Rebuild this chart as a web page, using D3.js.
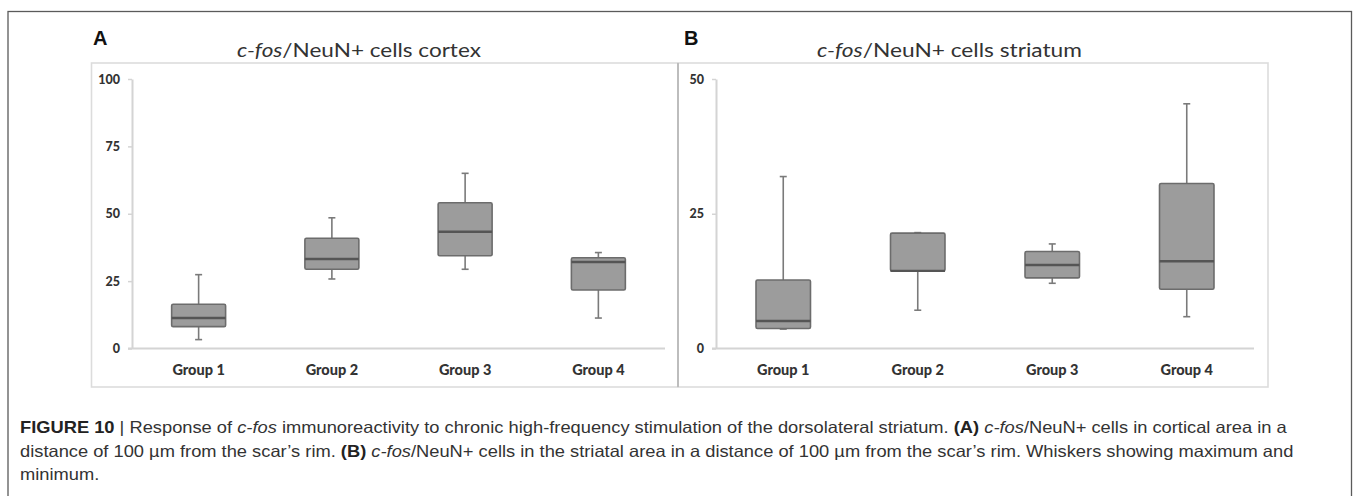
<!DOCTYPE html>
<html>
<head>
<meta charset="utf-8">
<script src="https://cdn.jsdelivr.net/npm/d3@7"></script>
<style>
  html, body { margin: 0; padding: 0; background: #fff; }
  svg { display: block; }
</style>
</head>
<body>
<svg id="fig" width="1357" height="496"></svg>
<script>
// Groups shown on both panels
const groups = ["Group 1", "Group 2", "Group 3", "Group 4"];

// Panel A: c-fos/NeuN+ cells, cortex (five-number summaries)
const cortexMin    = [3.3, 25.8, 29.4, 11.3];
const cortexQ1     = [8.1, 29.4, 34.4, 21.7];
const cortexMedian = [11.3, 33.2, 43.3, 32.1];
const cortexQ3     = [16.4, 40.9, 54.1, 33.7];
const cortexMax    = [27.4, 48.5, 65.0, 35.6];
const cortexTicks  = [0, 25, 50, 75, 100];

// Panel B: c-fos/NeuN+ cells, striatum
const striatumMin    = [3.6, 7.1, 12.1, 5.9];
const striatumQ1     = [3.7, 14.4, 13.1, 11.0];
const striatumMedian = [5.1, 14.4, 15.5, 16.2];
const striatumQ3     = [12.7, 21.4, 18.0, 30.6];
const striatumMax    = [31.9, 21.5, 19.4, 45.4];
const striatumTicks  = [0, 25, 50];

const svg = d3.select("#fig");
const chartFont = "Lato, 'Open Sans', sans-serif";

// Outer figure border
svg.append("rect")
  .attr("x", 8).attr("y", 11.5)
  .attr("width", 1343.5).attr("height", 700)
  .attr("fill", "none").attr("stroke", "#5a5a5a").attr("stroke-width", 1.3);

// Fit a text element to a target width by horizontal scaling
function fitWidth(sel, x, width) {
  const w = sel.node().getComputedTextLength();
  sel.attr("transform", `translate(${x},0) scale(${width / w},1)`);
  return width / w;
}

function buildPanel(cfg) {
  const g = svg.append("g");
  const data = groups.map((name, i) => ({
    name, min: cfg.min[i], q1: cfg.q1[i], med: cfg.median[i], q3: cfg.q3[i], max: cfg.max[i]
  }));

  // chart frame
  g.append("rect")
    .attr("x", cfg.frame[0]).attr("y", 63)
    .attr("width", cfg.frame[1] - cfg.frame[0]).attr("height", 387 - 63)
    .attr("fill", "none").attr("stroke", "#dcdcdc").attr("stroke-width", 1.6);

  // panel letter
  g.append("text")
    .attr("x", cfg.letterX).attr("y", 45)
    .attr("font-family", "'Liberation Sans', Arial, sans-serif")
    .attr("font-weight", "bold").attr("font-size", 20)
    .attr("fill", "#111")
    .text(cfg.letter);

  // title with italic gene name
  const title = g.append("text")
    .attr("y", 57)
    .attr("font-family", chartFont).attr("font-size", 19.5)
    .attr("fill", "#333");
  title.append("tspan").attr("font-style", "italic").text("c-fos");
  title.append("tspan").text(cfg.titleRest);
  fitWidth(title, cfg.titleX, cfg.titleWidth);

  const x = d3.scaleBand().domain(groups).range(cfg.xRange).paddingInner(0).paddingOuter(0);
  const y = d3.scaleLinear().domain([0, cfg.ticks[cfg.ticks.length - 1]]).range([348.5, 79]);

  // y axis
  const yAxis = g.append("g")
    .attr("transform", `translate(${cfg.xRange[0]},0)`)
    .call(d3.axisLeft(y).tickValues(cfg.ticks).tickSize(4).tickSizeOuter(0).tickPadding(8));
  yAxis.select(".domain").attr("stroke", "#d4d4d4").attr("stroke-width", 2);
  yAxis.selectAll(".tick line").attr("stroke", "#d4d4d4").attr("stroke-width", 1.5);
  yAxis.selectAll(".tick text")
    .attr("font-family", chartFont).attr("font-weight", "900")
    .attr("font-size", 12.5).attr("fill", "#333");

  // x axis
  const xAxis = g.append("g")
    .attr("transform", "translate(0,348.5)")
    .call(d3.axisBottom(x).tickSize(0).tickPadding(16));
  xAxis.select(".domain")
    .attr("d", `M${cfg.xRange[0] - 4},0H${cfg.xRange[1]}`)
    .attr("stroke", "#d4d4d4").attr("stroke-width", 2);
  xAxis.selectAll(".tick text")
    .attr("font-family", chartFont).attr("font-weight", "900")
    .attr("font-size", 14.5).attr("fill", "#333");

  const bw = x.bandwidth() * 0.405;
  const cap = 7;
  const boxes = g.selectAll("g.box").data(data).join("g").attr("class", "box")
    .attr("transform", d => `translate(${x(d.name) + x.bandwidth() / 2},0)`);

  // whiskers
  boxes.append("line")
    .attr("x1", 0).attr("x2", 0)
    .attr("y1", d => y(d.max)).attr("y2", d => y(d.q3))
    .attr("stroke", "#7a7a7a").attr("stroke-width", 1.6);
  boxes.append("line")
    .attr("x1", 0).attr("x2", 0)
    .attr("y1", d => y(d.q1)).attr("y2", d => y(d.min))
    .attr("stroke", "#7a7a7a").attr("stroke-width", 1.6);
  boxes.append("line")
    .attr("x1", -cap / 2).attr("x2", cap / 2)
    .attr("y1", d => y(d.max)).attr("y2", d => y(d.max))
    .attr("stroke", "#7a7a7a").attr("stroke-width", 1.6);
  boxes.append("line")
    .attr("x1", -cap / 2).attr("x2", cap / 2)
    .attr("y1", d => y(d.min)).attr("y2", d => y(d.min))
    .attr("stroke", "#7a7a7a").attr("stroke-width", 1.6);

  // boxes
  boxes.append("rect")
    .attr("x", -bw / 2).attr("width", bw)
    .attr("y", d => y(d.q3)).attr("height", d => y(d.q1) - y(d.q3))
    .attr("rx", 1.5)
    .attr("fill", "#9c9c9c").attr("stroke", "#6c6c6c").attr("stroke-width", 1.6);

  // medians
  boxes.append("line")
    .attr("x1", -bw / 2).attr("x2", bw / 2)
    .attr("y1", d => y(d.med)).attr("y2", d => y(d.med))
    .attr("stroke", "#555").attr("stroke-width", 2.4);
}

buildPanel({
  letter: "A", letterX: 93,
  titleRest: "/NeuN+  cells cortex", titleX: 237, titleWidth: 244,
  frame: [91.5, 678], xRange: [132, 665], ticks: cortexTicks,
  min: cortexMin, q1: cortexQ1, median: cortexMedian, q3: cortexQ3, max: cortexMax
});
buildPanel({
  letter: "B", letterX: 684,
  titleRest: "/NeuN+ cells striatum", titleX: 817, titleWidth: 265,
  frame: [678, 1268], xRange: [716, 1254], ticks: striatumTicks,
  min: striatumMin, q1: striatumQ1, median: striatumMedian, q3: striatumQ3, max: striatumMax
});

// divider between the two panels
svg.append("line")
  .attr("x1", 678).attr("x2", 678).attr("y1", 63).attr("y2", 387)
  .attr("stroke", "#bdbdbd").attr("stroke-width", 2);

// Figure caption (runs of [text, style])
const captionLines = [
  [["FIGURE 10", "b"], [" | ", ""], ["Response of ", ""], ["c-fos", "i"],
   [" immunoreactivity to chronic high-frequency stimulation of the dorsolateral striatum. ", ""],
   ["(A)", "b"], [" ", ""], ["c-fos", "i"], ["/NeuN+ cells in cortical area in a", ""]],
  [["distance of 100 \u00b5m from the scar\u2019s rim. ", ""], ["(B)", "b"], [" ", ""], ["c-fos", "i"],
   ["/NeuN+ cells in the striatal area in a distance of 100 \u00b5m from the scar\u2019s rim. Whiskers showing maximum and", ""]],
  [["minimum.", ""]]
];
const captionY = [433, 457, 480];
const capNodes = captionLines.map((runs, i) => {
  const t = svg.append("text")
    .attr("y", captionY[i])
    .attr("font-family", "'Liberation Sans Narrow', 'Liberation Sans', Arial, sans-serif")
    .attr("font-size", 16.5).attr("fill", "#333");
  runs.forEach(([s, st]) => {
    const ts = t.append("tspan").text(s);
    if (st === "b") ts.attr("font-weight", "bold").attr("fill", "#222");
    if (st === "i") ts.attr("font-style", "italic");
  });
  return t;
});
const capScale = 1275 / capNodes[1].node().getComputedTextLength();
capNodes.forEach(t => t.attr("transform", `translate(20,0) scale(${capScale},1)`));
</script>
</body>
</html>
